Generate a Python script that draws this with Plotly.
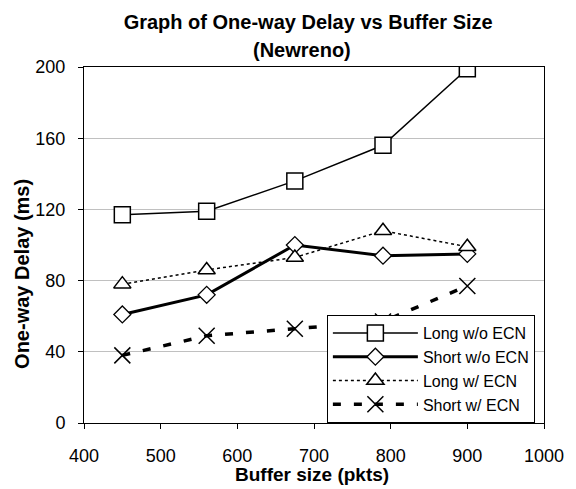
import plotly.graph_objects as go

buffer_sizes = [450, 560, 675, 790, 900]
long_wo_ecn = [117, 119, 136, 156, 199]
short_wo_ecn = [61, 72, 100, 94, 95]
long_w_ecn = [78, 86, 93, 108, 99]
short_w_ecn = [38, 49, 53, 57, 77]

x_ticks = [400, 500, 600, 700, 800, 900, 1000]
y_ticks = [0, 40, 80, 120, 160, 200]

FONT = "Liberation Sans, Arial, sans-serif"

fig = go.Figure()
fig.add_trace(go.Scatter(
    x=buffer_sizes, y=long_wo_ecn, name="Long w/o ECN", mode="lines+markers",
    line=dict(color="black", width=1.5),
    marker=dict(symbol="square", size=16, color="white", line=dict(color="black", width=1.5))))
fig.add_trace(go.Scatter(
    x=buffer_sizes, y=short_wo_ecn, name="Short w/o ECN", mode="lines+markers",
    line=dict(color="black", width=3),
    marker=dict(symbol="diamond", size=13, color="white", line=dict(color="black", width=1.3))))
fig.add_trace(go.Scatter(
    x=buffer_sizes, y=long_w_ecn, name="Long w/ ECN", mode="lines+markers",
    line=dict(color="black", width=1.5, dash="dot"),
    marker=dict(symbol="triangle-up", size=15, color="white", line=dict(color="black", width=1.5))))
fig.add_trace(go.Scatter(
    x=buffer_sizes, y=short_w_ecn, name="Short w/ ECN", mode="lines+markers",
    line=dict(color="black", width=3.5, dash="8px,13px"),
    marker=dict(symbol="x-thin", size=16, color="black", line=dict(color="black", width=1.5))))

fig.update_layout(
    width=576, height=489,
    paper_bgcolor="white", plot_bgcolor="white",
    margin=dict(l=84, r=26, t=67, b=66),
    font=dict(family=FONT, color="black", size=18),
    title=dict(text="<b>Graph of One-way Delay vs Buffer Size</b>", x=0.535, xanchor="center",
               y=0.956, yanchor="middle", font=dict(size=20, family=FONT, color="black")),
    showlegend=True,
    legend=dict(x=0.528, y=0.0, xanchor="left", yanchor="bottom",
                bgcolor="white", bordercolor="black", borderwidth=1,
                font=dict(size=16, family=FONT, color="black"),
                tracegroupgap=0, itemwidth=85),
    xaxis=dict(range=[400, 1000], tickvals=x_ticks, ticks="outside", ticklen=5,
               tickcolor="black", showline=True, linecolor="black", linewidth=1,
               mirror=True, showgrid=False, zeroline=False, ticklabelstandoff=11,
               tickfont=dict(size=18)),
    yaxis=dict(range=[0, 200], tickvals=y_ticks, ticks="outside", ticklen=5,
               tickcolor="black", showline=True, linecolor="black", linewidth=1,
               mirror=True, showgrid=True, gridcolor="#c0c0c0", zeroline=False,
               ticklabelstandoff=9, tickfont=dict(size=18)),
    annotations=[
        dict(text="<b>(Newreno)</b>", xref="paper", yref="paper",
             x=0.474, y=1.048, xanchor="center", yanchor="middle",
             showarrow=False, font=dict(size=20, family=FONT, color="black")),
        dict(text="<b>Buffer size (pkts)</b>", xref="paper", yref="paper",
             x=0.496, y=-0.146, xanchor="center", yanchor="middle",
             showarrow=False, font=dict(size=19, family=FONT, color="black")),
        dict(text="<b>One-way Delay (ms)</b>", xref="paper", yref="paper",
             x=-0.135, y=0.4185, xanchor="center", yanchor="middle", textangle=-90,
             showarrow=False, font=dict(size=20, family=FONT, color="black")),
    ],
)

fig.write_html("out.html")
